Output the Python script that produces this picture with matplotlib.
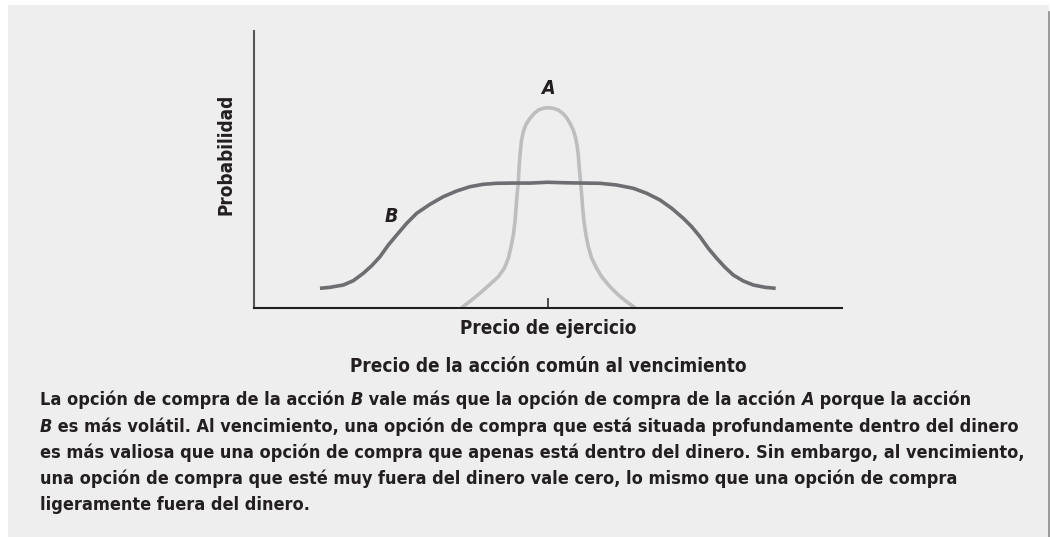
import matplotlib
matplotlib.use("Agg")
import matplotlib.pyplot as plt
from matplotlib.patches import Rectangle
from matplotlib.lines import Line2D
from matplotlib.font_manager import FontProperties

# ---- data ----
strike = 50
b_x = [11.22, 12.93, 15.19, 16.89, 18.59, 20.02, 21.43, 22.84, 24.27, 25.97, 27.67,
       29.93, 32.19, 34.47, 36.73, 38.99, 41.28, 44.0, 47.0, 50.0, 53.0, 56.0,
       58.84, 61.68, 64.51, 66.78, 69.05, 71.04, 73.01, 74.44, 75.85, 77.26,
       78.69, 80.10, 81.51, 83.21, 84.92, 86.90, 88.72]
b_y = [7.11, 7.47, 8.30, 9.86, 12.53, 15.27, 18.52, 22.74, 26.35, 30.58, 34.19,
       37.44, 40.18, 42.24, 43.79, 44.66, 45.02, 45.1, 45.1, 45.4, 45.2, 45.1,
       45.02, 44.40, 43.21, 41.41, 38.99, 35.99, 32.38, 29.35, 25.74, 21.55,
       17.94, 14.69, 11.91, 9.75, 8.30, 7.47, 7.11]
a_x = [35.32, 37.02, 38.72, 40.14, 41.55, 42.57, 43.25, 43.71, 44.10, 44.39, 44.56,
       44.73, 44.95, 45.07, 45.24, 45.46, 45.80, 46.26, 46.94, 47.62, 48.35, 49.20,
       50.05, 50.90, 51.75, 52.50, 53.18, 53.74, 54.30, 54.71, 54.98, 55.15, 55.32,
       55.56, 55.73, 55.90, 56.12, 56.46, 56.85, 57.43, 58.28, 59.13, 60.54, 61.96,
       63.38, 64.80]
a_y = [0.11, 2.89, 5.88, 8.56, 11.30, 14.33, 17.94, 22.13, 26.35, 31.16, 35.99,
       40.79, 45.02, 50.43, 55.23, 60.04, 63.65, 66.32, 68.49, 70.15, 71.48, 72.10,
       72.31, 72.10, 71.48, 70.29, 68.70, 66.68, 64.26, 61.26, 58.23, 55.23, 50.43,
       45.02, 40.79, 35.99, 31.16, 26.35, 22.13, 17.94, 14.33, 11.30, 7.69, 4.69,
       2.28, 0.11]

xlabel_tick = "Precio de ejercicio"
xlabel = "Precio de la acción común al vencimiento"
ylabel = "Probabilidad"
caption = [
    [("La opción de compra de la acción ", "normal"), ("B", "italic"),
     (" vale más que la opción de compra de la acción ", "normal"), ("A", "italic"),
     (" porque la acción", "normal")],
    [("B", "italic"), (" es más volátil. Al vencimiento, una opción de compra que está situada profundamente dentro del dinero", "normal")],
    [("es más valiosa que una opción de compra que apenas está dentro del dinero. Sin embargo, al vencimiento,", "normal")],
    [("una opción de compra que esté muy fuera del dinero vale cero, lo mismo que una opción de compra", "normal")],
    [("ligeramente fuera del dinero.", "normal")],
]

W, H = 1050, 537
TXT = "#231f20"
FONT = dict(family="DejaVu Sans", stretch="condensed", weight="bold")
LABEL_FS = 13.6
CAP_FS = 13.0

fig = plt.figure(figsize=(W / 100, H / 100), dpi=100)
fig.patch.set_facecolor("white")

def fx(px):
    return px / W

def fy(py):
    return 1 - py / H

# grey panel
fig.patches.append(Rectangle((fx(8), 0), fx(1049) - fx(8), fy(5), transform=fig.transFigure,
                             facecolor="#eeeeee", edgecolor="none", zorder=-10))
fig.lines.append(Line2D([fx(1048.5), fx(1048.5)], [0, fy(12)], transform=fig.transFigure,
                        color="#8a8a8a", lw=1.2))

ax = fig.add_axes([fx(254), fy(308), fx(842) - fx(254), fy(31) - fy(308)])
ax.set_facecolor("none")
ax.set_xlim(0, 100)
ax.set_ylim(0, 100)
for s in ("top", "right"):
    ax.spines[s].set_visible(False)
ax.spines["left"].set_color("#555555")
ax.spines["left"].set_linewidth(1.5)
ax.spines["bottom"].set_color(TXT)
ax.spines["bottom"].set_linewidth(1.5)
ax.set_yticks([])
ax.set_xticks([strike], labels=[xlabel_tick])
ax.tick_params(axis="x", direction="in", length=7.5, width=1.1, color=TXT, pad=8,
               labelcolor=TXT)
for t in ax.get_xticklabels():
    t.set_fontproperties(FontProperties(size=LABEL_FS, **FONT))

ax.plot(a_x, a_y, color="#bcbec0", lw=2.6, solid_capstyle="butt", solid_joinstyle="round", clip_on=False)
ax.plot(b_x, b_y, color="#6d6e71", lw=2.6, solid_capstyle="butt", solid_joinstyle="round", clip_on=False)

ax.text(50, 79.4, "A", ha="center", va="center", fontsize=14, color=TXT, style="italic", **FONT)
ax.text(23.4, 33.0, "B", ha="center", va="center", fontsize=14, color=TXT, style="italic", **FONT)

fig.text(fx(226), fy(154), ylabel, rotation=90, ha="center", va="center", fontsize=LABEL_FS,
         color=TXT, **FONT)
fig.text(fx(548), fy(366), xlabel, ha="center", va="center", fontsize=LABEL_FS, color=TXT, **FONT)

# caption with italic pieces
fig.canvas.draw()
renderer = fig.canvas.get_renderer()
line_y = [400, 427, 453, 479, 505]
for segs, yy in zip(caption, line_y):
    x = 40
    for txt, st in segs:
        t = fig.text(fx(x), fy(yy), txt, ha="left", va="center", fontsize=CAP_FS, color=TXT,
                     style=st, **FONT)
        bb = t.get_window_extent(renderer=renderer)
        x += bb.width

fig.savefig("out.png", dpi=100, facecolor=fig.get_facecolor())
